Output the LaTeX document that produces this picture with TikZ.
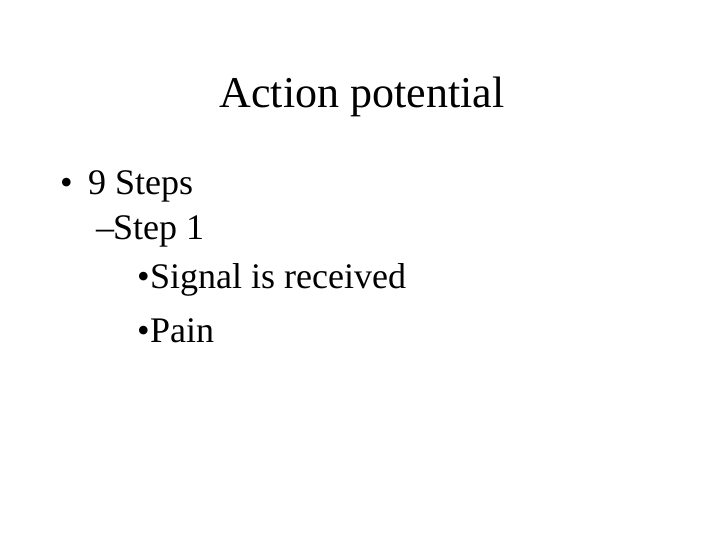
\documentclass[tikz,border=0pt]{standalone}
\usepackage{fontspec}
\setmainfont{Liberation Serif}
\begin{document}
\begin{tikzpicture}[x=1pt,y=-1pt,txt/.style={anchor=base west,inner sep=0pt,font=\fontsize{36}{40}\selectfont}]
\useasboundingbox (0,0) rectangle (720,540);
\node[anchor=base,inner sep=0pt,font=\fontsize{44}{48}\selectfont] (title) at (362,108) {Action potential};
\node[txt] (b1) at (60,195) {•};
\node[txt] (t1) at (88,195) {9 Steps};
\node[txt] (b2) at (96,240) {–};
\node[txt] (t2) at (113,240) {Step 1};
\node[txt] (b3) at (137,288) {•};
\node[txt] (t3) at (150,288) {Signal is received};
\node[txt] (b4) at (137,342) {•};
\node[txt] (t4) at (150,342) {Pain};
\end{tikzpicture}
\end{document}
